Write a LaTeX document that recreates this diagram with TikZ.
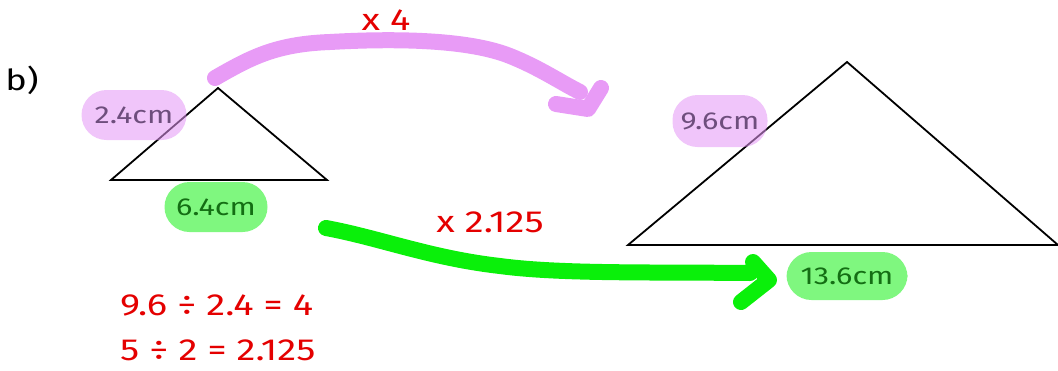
\documentclass[tikz,border=0pt]{standalone}
\usepackage{fontspec}
\setmainfont{Fira Sans}[FakeStretch=1.25]
\definecolor{pinkhl}{RGB}{228,150,245}
\definecolor{pinkarrow}{RGB}{232,155,246}
\definecolor{greenhl}{RGB}{0,240,0}
\definecolor{greenarrow}{RGB}{10,240,10}
\definecolor{redtxt}{RGB}{228,0,0}
\definecolor{pinktxt}{RGB}{110,78,125}
\definecolor{greentxt}{RGB}{20,110,20}
\begin{document}
\begin{tikzpicture}[x=1pt,y=-1pt,
  pill/.style={rounded corners=25pt, fill opacity=0.55, text opacity=1, inner sep=0pt,
    font=\fontsize{24.5}{26}\selectfont},
  pinkpill/.style={pill, fill=pinkhl, text=pinktxt},
  greenpill/.style={pill, fill=greenhl, fill opacity=0.5, text=greentxt},
  redlabel/.style={text=redtxt, font=\fontsize{30.5}{32}\selectfont, inner sep=0pt},
  marker/.style={line width=16pt, line cap=round, line join=round},
  tri/.style={draw=black, line width=1.8pt, line join=miter}]
\useasboundingbox (0,0) rectangle (1058,370);

% label
\node[font=\fontsize{29}{31}\selectfont, inner sep=0pt] (lab) at (22,80) {b)};

% triangles
\coordinate (sA) at (218,88);
\coordinate (sB) at (111,180);
\coordinate (sC) at (327,180);
\draw[tri] (sA) -- (sB) -- (sC) -- cycle;
\coordinate (bA) at (847,62);
\coordinate (bB) at (628,245);
\coordinate (bC) at (1058,245);
\draw[tri] (bA) -- (bB) -- (bC) -- cycle;

% highlighted side lengths
\node[pinkpill, minimum width=105pt, minimum height=50pt] (s24) at (134,115) {2.4cm};
\node[greenpill, minimum width=103pt, minimum height=50pt] (s64) at (216,207) {6.4cm};
\node[pinkpill, minimum width=95pt, minimum height=52pt] (s96) at (720,121) {9.6cm};
\node[greenpill, minimum width=121pt, minimum height=48pt] (s136) at (847,276) {13.6cm};

% pink arrow
\coordinate (pstart) at (215,78);
\coordinate (pend) at (580,92);
\draw[marker, pinkarrow] (pstart) .. controls (250,58) and (275,44) .. (330,42)
  .. controls (400,38) and (470,40) .. (510,56) .. controls (540,68) and (560,82) .. (pend);
\coordinate (ph1) at (556,104);
\coordinate (ph2) at (588,109);
\coordinate (ph3) at (601,88);
\draw[marker, pinkarrow] (ph1) -- (ph2) -- (ph3);

% green arrow
\coordinate (gstart) at (326,228);
\coordinate (gend) at (750,273);
\draw[marker, greenarrow] (gstart) .. controls (380,238) and (430,258) .. (500,266)
  .. controls (560,274) and (650,272) .. (gend);
\coordinate (gh1) at (753,262);
\coordinate (gh2) at (769,280);
\coordinate (gh3) at (741,302);
\draw[marker, greenarrow] (gh1) -- (gh2) -- (gh3);

% red labels
\node[redlabel] (x4) at (386,20) {x 4};
\node[redlabel] (x2125) at (490,222) {x 2.125};
\node[redlabel, anchor=west] (eq1) at (120,305) {9.6 ÷ 2.4 = 4};
\node[redlabel, anchor=west] (eq2) at (120,350) {5 ÷ 2 = 2.125};
\end{tikzpicture}
\end{document}
